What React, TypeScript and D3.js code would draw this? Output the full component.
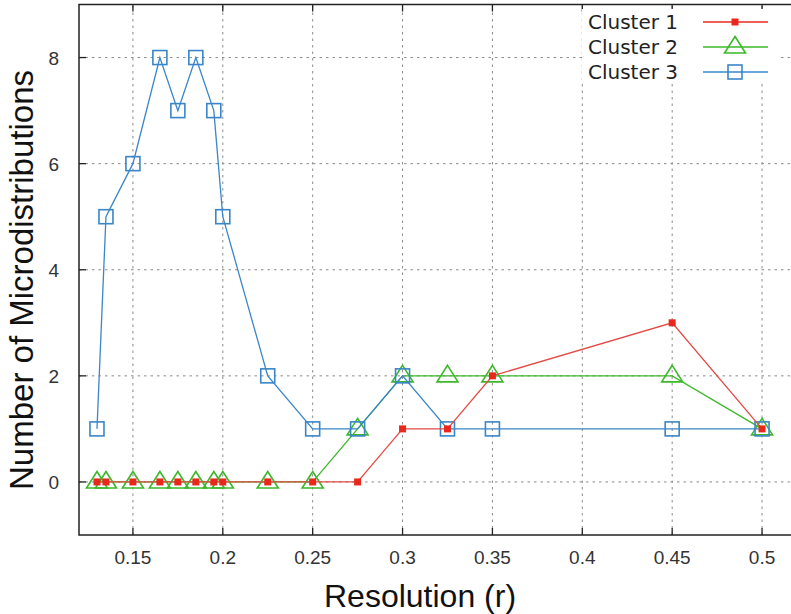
import React from "react";
import * as d3 from "d3";

// resolution values shared by all clusters
const resolution = [0.13, 0.135, 0.15, 0.165, 0.175, 0.185, 0.195, 0.2, 0.225, 0.25, 0.275, 0.3, 0.325, 0.35, 0.45, 0.5];
const cluster1 = [0, 0, 0, 0, 0, 0, 0, 0, 0, 0, 0, 1, 1, 2, 3, 1];
const cluster2 = [0, 0, 0, 0, 0, 0, 0, 0, 0, 0, 1, 2, 2, 2, 2, 1];
const cluster3 = [1, 5, 6, 8, 7, 8, 7, 5, 2, 1, 1, 2, 1, 1, 1, 1];
const xTicks = [0.15, 0.2, 0.25, 0.3, 0.35, 0.4, 0.45, 0.5];
const yTicks = [0, 2, 4, 6, 8];
const seriesNames = ["Cluster 1", "Cluster 2", "Cluster 3"];

const W = 791;
const H = 614;
const margin = { top: 4.5, right: -7, bottom: 79, left: 79 };

const RED = "#e8281c";
const GREEN = "#3cb82a";
const BLUE = "#3a86c8";

function Marker({ kind, x, y }: { kind: number; x: number; y: number }) {
  if (kind === 0) return <rect x={x - 3.5} y={y - 3.5} width={7} height={7} fill={RED} />;
  if (kind === 1)
    return (
      <path
        d={`M${x},${y - 10.5}L${x + 10.5},${y + 6}L${x - 10.5},${y + 6}Z`}
        fill="none"
        stroke={GREEN}
        strokeWidth={1.6}
      />
    );
  return <rect x={x - 7} y={y - 7} width={14} height={14} fill="none" stroke={BLUE} strokeWidth={1.6} />;
}

export default function App() {
  const x = d3.scaleLinear().domain([0.12, 0.52]).range([margin.left, W - margin.right]);
  const y = d3.scaleLinear().domain([-1, 9]).range([H - margin.bottom, margin.top]);

  const line = d3
    .line<number>()
    .x((_, i) => x(resolution[i]))
    .y((d) => y(d));

  const series = [
    { kind: 1, values: cluster2, color: GREEN },
    { kind: 2, values: cluster3, color: BLUE },
    { kind: 0, values: cluster1, color: "#e34a44" },
  ];

  const x0 = margin.left;
  const x1 = W - margin.right;
  const y0 = H - margin.bottom;
  const y1 = margin.top;

  return (
    <div>
      <style>{`body{margin:0}`}</style>
      <svg width={W} height={H} style={{ display: "block", background: "#fff" }}>
        {/* grid */}
        <g stroke="#8a8a8a" strokeWidth={1} strokeDasharray="2.5,4">
          {xTicks.map((t) => (
            <line key={"gx" + t} x1={x(t)} x2={x(t)} y1={y0} y2={y1} />
          ))}
          {yTicks.map((t) => (
            <line key={"gy" + t} x1={x0} x2={x1} y1={y(t)} y2={y(t)} />
          ))}
        </g>

        {/* series */}
        {series.map((s) => (
          <g key={s.kind}>
            <path d={line(s.values) || ""} fill="none" stroke={s.color} strokeWidth={1.3} />
            {s.values.map((v, i) => (
              <Marker key={i} kind={s.kind} x={x(resolution[i])} y={y(v)} />
            ))}
          </g>
        ))}

        {/* frame and ticks */}
        <rect x={x0} y={y1} width={x1 - x0} height={y0 - y1} fill="none" stroke="#222" strokeWidth={1.5} />
        <g stroke="#222" strokeWidth={1.3}>
          {xTicks.map((t) => (
            <g key={"tx" + t}>
              <line x1={x(t)} x2={x(t)} y1={y0} y2={y0 - 7} />
              <line x1={x(t)} x2={x(t)} y1={y1} y2={y1 + 7} />
            </g>
          ))}
          {yTicks.map((t) => (
            <line key={"ty" + t} x1={x0} x2={x0 + 7} y1={y(t)} y2={y(t)} />
          ))}
        </g>

        {/* tick labels */}
        <g fontFamily="Liberation Sans, Arial, sans-serif" fontSize={19} fill="#333">
          {xTicks.map((t) => (
            <text key={"lx" + t} x={x(t)} y={y0 + 29} textAnchor="middle">
              {String(t)}
            </text>
          ))}
          {yTicks.map((t) => (
            <text key={"ly" + t} x={59} y={y(t) + 7} textAnchor="end">
              {t}
            </text>
          ))}
        </g>

        {/* axis titles */}
        <text
          x={420}
          y={607}
          textAnchor="middle"
          fontFamily="Liberation Sans, Arial, sans-serif"
          fontSize={32}
          fill="#111"
        >
          Resolution (r)
        </text>
        <text
          transform={`translate(33,${280}) rotate(-90)`}
          textAnchor="middle"
          fontFamily="Liberation Sans, Arial, sans-serif"
          fontSize={33}
          fill="#111"
        >
          Number of Microdistributions
        </text>

        {/* legend */}
        <rect x={582} y={9} width={196} height={75} fill="#fff" />
        {[RED, GREEN, BLUE].map((c, i) => {
          const ly = 22 + i * 25;
          return (
            <g key={"leg" + i}>
              <text x={588} y={ly + 7} fontFamily="DejaVu Sans, sans-serif" fontSize={20} fill="#222">
                {seriesNames[i]}
              </text>
              <line x1={703} x2={768} y1={ly} y2={ly} stroke={c} strokeWidth={1.3} />
              <Marker kind={i} x={735} y={ly} />
            </g>
          );
        })}
      </svg>
    </div>
  );
}
